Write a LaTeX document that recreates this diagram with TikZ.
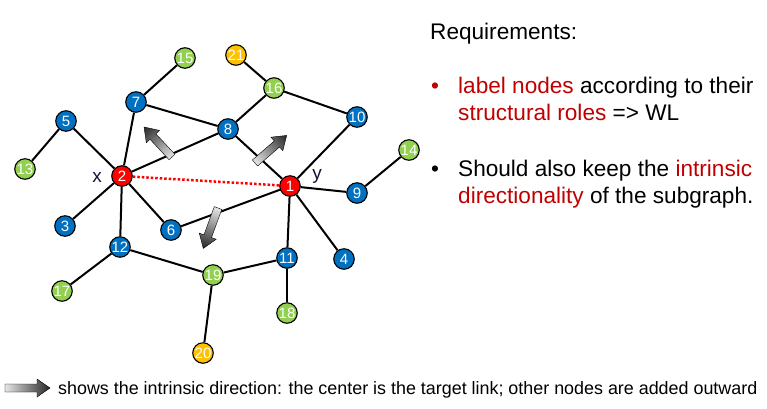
\documentclass[tikz,border=0pt]{standalone}
\usepackage{fontspec}
\setmainfont{Liberation Sans}
\definecolor{nblue}{HTML}{0070C0}
\definecolor{ngreen}{HTML}{92D050}
\definecolor{norange}{HTML}{FFC000}
\definecolor{nred}{HTML}{FF0000}
\definecolor{dred}{HTML}{C00000}
\definecolor{xylab}{RGB}{15,20,60}
\tikzset{
  gnode/.style={circle, draw=black, line width=1.1pt, minimum size=20.5pt, inner sep=0pt,
    text=white, font=\fontsize{15}{15}\selectfont},
  bnode/.style={gnode, fill=nblue},
  grnode/.style={gnode, fill=ngreen},
  onode/.style={gnode, fill=norange},
  rnode/.style={gnode, fill=nred},
  edge/.style={line width=2pt, black},
  target/.style={line width=2.5pt, nred, dash pattern=on 2.5pt off 2pt},
  txt/.style={anchor=base west, inner sep=0pt, font=\fontsize{22.6}{26}\selectfont},
  xy/.style={text=xylab, font=\fontsize{19}{19}\selectfont, inner sep=0pt},
}
\newcommand{\grayarrow}[3]{%
  \shade[transform canvas={shift={#1}, rotate=#2}, left color=gray!20, right color=black!85,
    draw=black, line width=0.4pt]
  (0,4) -- ({#3-13},4) -- ({#3-13},9) -- (#3,0) -- ({#3-13},-9) -- ({#3-13},-4) -- (0,-4) -- cycle;}
\begin{document}
\begin{tikzpicture}[x=1pt, y=-1pt]
\useasboundingbox (0,0) rectangle (767,408);
% nodes
\node[rnode] (n1) at (290,186) {1};
\node[rnode] (n2) at (122,176) {2};
\node[bnode] (n3) at (65,226) {3};
\node[bnode] (n4) at (344,259) {4};
\node[bnode] (n5) at (66,121) {5};
\node[bnode] (n6) at (171,230) {6};
\node[bnode] (n7) at (136,102) {7};
\node[bnode] (n8) at (228,129) {8};
\node[bnode] (n9) at (357,193) {9};
\node[bnode] (n10) at (357,117) {10};
\node[bnode] (n11) at (287,258) {11};
\node[bnode] (n12) at (120,247) {12};
\node[grnode] (n13) at (25,169) {13};
\node[grnode] (n14) at (409,150) {14};
\node[grnode] (n15) at (185,58) {15};
\node[grnode] (n16) at (274,88) {16};
\node[grnode] (n17) at (62,291) {17};
\node[grnode] (n18) at (287,313) {18};
\node[grnode] (n19) at (213,275) {19};
\node[onode] (n20) at (203,353) {20};
\node[onode] (n21) at (236,55) {21};
% labels
\node[xy] (lx) at (97,177) {x};
\node[xy] (ly) at (317,176) {y};
% edges
\draw[edge] (n2) -- (n7);
\draw[edge] (n2) -- (n5);
\draw[edge] (n2) -- (n8);
\draw[edge] (n2) -- (n3);
\draw[edge] (n2) -- (n6);
\draw[edge] (n2) -- (n12);
\draw[edge] (n5) -- (n13);
\draw[edge] (n7) -- (n15);
\draw[edge] (n7) -- (n8);
\draw[edge] (n8) -- (n16);
\draw[edge] (n8) -- (n1);
\draw[edge] (n16) -- (n21);
\draw[edge] (n16) -- (n10);
\draw[edge] (n10) -- (n1);
\draw[edge] (n1) -- (n9);
\draw[edge] (n1) -- (n6);
\draw[edge] (n1) -- (n11);
\draw[edge] (n1) -- (n4);
\draw[edge] (n9) -- (n14);
\draw[edge] (n12) -- (n17);
\draw[edge] (n12) -- (n19);
\draw[edge] (n19) -- (n11);
\draw[edge] (n19) -- (n20);
\draw[edge] (n11) -- (n18);
\draw[target] (n2) -- (n1);
% direction arrows
\grayarrow{(172,157)}{133}{41}
\grayarrow{(255,163)}{41}{42}
\grayarrow{(218,208)}{-110}{43}
\grayarrow{(5,388)}{0}{45}
% text
\node[txt] (req) at (430,39) {Requirements:};
\node[txt, text=dred] (b1) at (431,93) {•};
\node[txt] (l1) at (458,93) {\textcolor{dred}{label nodes} according to their};
\node[txt] (l2) at (458,120) {\textcolor{dred}{structural roles} => WL};
\node[txt] (b2) at (431,176) {•};
\node[txt] (l3) at (458,176) {Should also keep the \textcolor{dred}{intrinsic}};
\node[txt] (l4) at (458,203) {\textcolor{dred}{directionality} of the subgraph.};
\node[txt, font=\fontsize{17.9}{20}\selectfont] (leg) at (58,394) {shows the intrinsic direction: the center is the target link; other nodes are added outward};
\end{tikzpicture}
\end{document}
